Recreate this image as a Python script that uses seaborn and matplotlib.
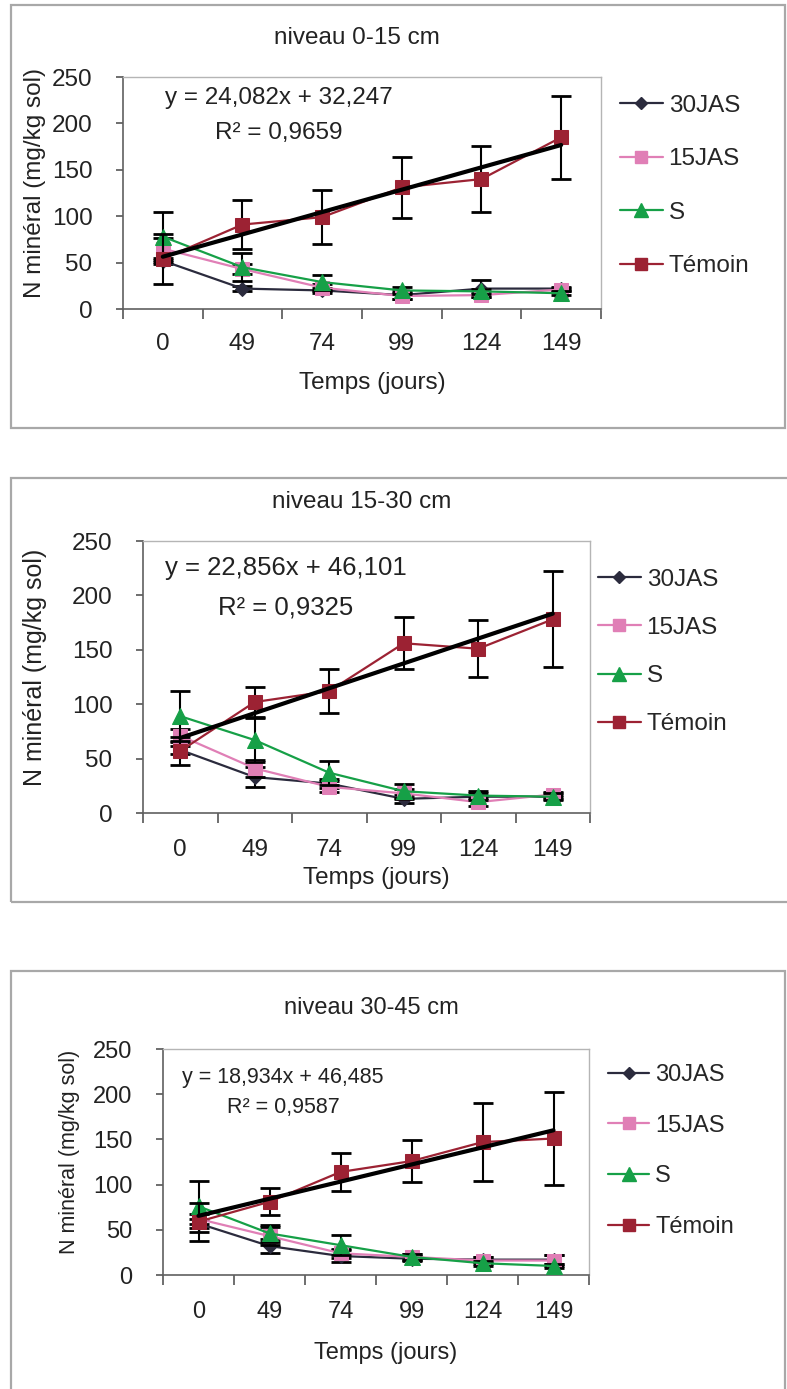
import seaborn as sns
import pandas as pd
import numpy as np
import matplotlib
matplotlib.use("Agg")
import matplotlib.pyplot as plt
from matplotlib.patches import Rectangle
from matplotlib.lines import Line2D

# jours de prelevement (axe categoriel)
days = ["0", "49", "74", "99", "124", "149"]
series = ["30JAS", "15JAS", "S", "Témoin"]

# niveau 0-15 cm
jas30_a = [52, 22, 20, 15, 22, 22]
jas15_a = [65, 43, 23, 14, 15, 21]
s_a = [78, 45, 29, 20, 19, 17]
tem_a = [54, 91, 99, 131, 140, 185]
err30_a = [3, 3, 3, 4, 9, 2]
err15_a = [12, 5, 4, 3, 2, 2]
errs_a = [27, 15, 8, 4, 3, 2]
errt_a = [27, 26, 29, 33, 36, 45]

# niveau 15-30 cm
jas30_b = [58, 33, 27, 13, 15, 15]
jas15_b = [71, 41, 24, 18, 10, 17]
s_b = [89, 67, 37, 20, 16, 15]
tem_b = [57, 102, 112, 156, 151, 178]
err30_b = [4, 9, 4, 4, 3, 2]
err15_b = [6, 8, 5, 4, 4, 2]
errs_b = [23, 20, 11, 7, 4, 3]
errt_b = [13, 14, 20, 24, 26, 44]

# niveau 30-45 cm
jas30_c = [57, 32, 21, 18, 17, 17]
jas15_c = [62, 43, 24, 20, 16, 16]
s_c = [76, 46, 33, 20, 13, 10]
tem_c = [59, 81, 114, 126, 147, 151]
err30_c = [5, 8, 7, 3, 3, 5]
err15_c = [6, 10, 5, 3, 4, 6]
errs_c = [28, 9, 11, 3, 3, 2]
errt_c = [21, 15, 21, 23, 43, 51]

# courbes de tendance du temoin (coefficients affiches)
slopes = [24.082, 22.856, 18.934]
intercepts = [32.247, 46.101, 46.485]
eq_texts = ["y = 24,082x + 32,247", "y = 22,856x + 46,101", "y = 18,934x + 46,485"]
r2_texts = ["R² = 0,9659", "R² = 0,9325", "R² = 0,9587"]
titles = ["niveau 0-15 cm", "niveau 15-30 cm", "niveau 30-45 cm"]

colors = {"30JAS": "#2b2b3d", "15JAS": "#e07fb6", "S": "#16a047", "Témoin": "#9c2233"}
markers = {"30JAS": "D", "15JAS": "s", "S": "^", "Témoin": "s"}
msizes = {"30JAS": 7, "15JAS": 10, "S": 11, "Témoin": 10}

W, H = 787, 1389
sns.set_theme(style="white")
plt.rcParams["font.family"] = ["Liberation Sans", "DejaVu Sans"]

fig = plt.figure(figsize=(W / 100, H / 100), dpi=100)


def fx(px):
    return px / W


def fy(py):
    return 1 - py / H


# mise en page de chaque panneau (pixels)
layout = [
    dict(box=(11, 5, 785, 428), ax=(123, 77, 601, 309), title_y=38, xlab_y=383, ylab_x=35,
         eq=(279, 98, 133), fs=17.5, eqfs=17.5, ylfs=17.5, xpad=17, leg=(620, 186, 1.3)),
    dict(box=(11, 478, 795, 902), ax=(143, 541, 590, 813), title_y=502, xlab_y=878, ylab_x=35,
         eq=(286, 568, 607), fs=17.5, eqfs=18.5, ylfs=18, xpad=19, leg=(598, 652, 1.08)),
    dict(box=(11, 971, 785, 1400), ax=(163, 1049, 589, 1275), title_y=1008, xlab_y=1353, ylab_x=70,
         eq=(283, 1078, 1108), fs=17, eqfs=15.5, ylfs=15.5, xpad=19, leg=(608, 1151, 1.22)),
]

values = [
    {"30JAS": (jas30_a, err30_a), "15JAS": (jas15_a, err15_a), "S": (s_a, errs_a), "Témoin": (tem_a, errt_a)},
    {"30JAS": (jas30_b, err30_b), "15JAS": (jas15_b, err15_b), "S": (s_b, errs_b), "Témoin": (tem_b, errt_b)},
    {"30JAS": (jas30_c, err30_c), "15JAS": (jas15_c, err15_c), "S": (s_c, errs_c), "Témoin": (tem_c, errt_c)},
]

for i, lay in enumerate(layout):
    bx0, by0, bx1, by1 = lay["box"]
    fig.patches.append(Rectangle((fx(bx0), fy(by1)), fx(bx1 - bx0), (by1 - by0) / H,
                                 transform=fig.transFigure, fill=False,
                                 edgecolor="#a8a8a8", lw=1.6, zorder=0))
    ax0, ay0, ax1, ay1 = lay["ax"]
    ax = fig.add_axes([fx(ax0), fy(ay1), fx(ax1 - ax0), (ay1 - ay0) / H])

    pos = np.arange(len(days))
    for k, name in enumerate(series):
        vals, errs = values[i][name]
        df = pd.DataFrame({"pos": pos, "val": vals})
        ax.errorbar(pos, vals, yerr=errs, fmt="none", ecolor="black", elinewidth=1.5,
                    capsize=7, capthick=2, zorder=2 + k)
        sns.lineplot(data=df, x="pos", y="val", ax=ax, color=colors[name], marker=markers[name],
                     markersize=msizes[name], markeredgecolor=colors[name], lw=1.6, zorder=2.5 + k)

    trend = slopes[i] * (pos + 1) + intercepts[i]
    sns.lineplot(x=pos, y=trend, ax=ax, color="black", lw=3, zorder=8)

    ax.set_xlim(-0.5, 5.5)
    ax.set_ylim(0, 250)
    ax.set_xticks(pos, days)
    ax.set_xticks(np.arange(-0.5, 6, 1), minor=True)
    ax.set_yticks([0, 50, 100, 150, 200, 250])
    ax.tick_params(axis="x", which="major", length=0, pad=lay["xpad"], labelsize=lay["fs"], colors="#222222")
    ax.tick_params(axis="x", which="minor", length=7, width=1.2, direction="out", color="#555555", bottom=True)
    ax.tick_params(axis="y", length=5, width=1.2, direction="out", left=True, color="#555555",
                   pad=17, labelsize=lay["fs"], labelcolor="#222222")
    ax.set_xlabel("")
    ax.set_ylabel("")
    for sp in ["left", "bottom"]:
        ax.spines[sp].set_color("#606060")
        ax.spines[sp].set_linewidth(1.2)
    for sp in ["top", "right"]:
        ax.spines[sp].set_color("#b5b5b5")
        ax.spines[sp].set_linewidth(1.0)

    ex, ey1, ey2 = lay["eq"]
    fig.text(fx(ex), fy(ey1), eq_texts[i], ha="center", va="center", fontsize=lay["eqfs"], color="#222222")
    fig.text(fx(ex), fy(ey2), r2_texts[i], ha="center", va="center", fontsize=lay["eqfs"], color="#222222")

    cx = (ax0 + ax1) / 2
    fig.text(fx(cx - 5), fy(lay["title_y"]), titles[i], ha="center", va="center", fontsize=lay["fs"], color="#222222")
    fig.text(fx(cx + 10), fy(lay["xlab_y"]), "Temps (jours)", ha="center", va="center", fontsize=lay["fs"], color="#222222")
    fig.text(fx(lay["ylab_x"]), fy((ay0 + ay1) / 2 - 10), "N minéral (mg/kg sol)", ha="center", va="center",
             rotation=90, fontsize=lay["ylfs"], color="#222222")

    handles = [Line2D([], [], color=colors[n], marker=markers[n], markersize=msizes[n] - 1, lw=1.6) for n in series]
    lx, ly, lsp = lay["leg"]
    fig.legend(handles, series, loc="center left", bbox_to_anchor=(fx(lx), fy(ly)), frameon=False,
               borderpad=0, borderaxespad=0, handlelength=1.75, handletextpad=0.25,
               labelspacing=lsp, fontsize=lay["fs"])

fig.savefig("out.png", dpi=100, facecolor="white")
